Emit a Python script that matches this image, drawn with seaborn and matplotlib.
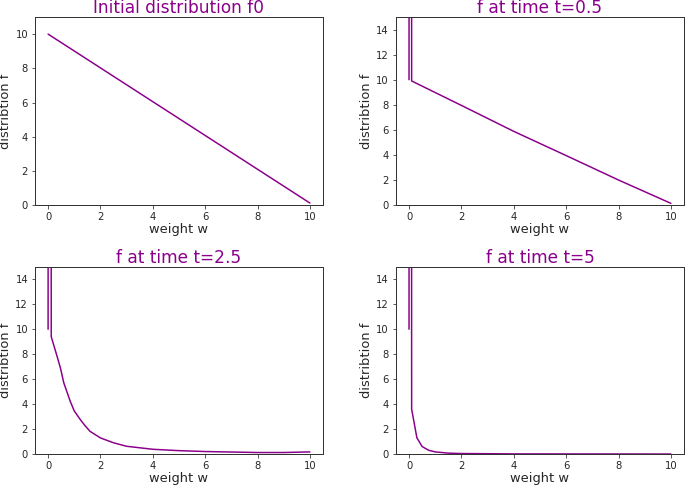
import numpy as np
import matplotlib
matplotlib.use("Agg")
import matplotlib.pyplot as plt
import seaborn as sns

# values
w_f0 = [0.0, 10.0]
f_f0 = [10.0, 0.12]

w_t05 = [0.0, 0.05, 0.1, 2.0, 4.0, 6.0, 8.0, 10.0]
f_t05 = [10.0, 300.0, 9.9, 7.95, 5.88, 3.95, 2.0, 0.14]

w_t25 = [0.0, 0.06, 0.12, 0.34, 0.47, 0.6, 0.7, 0.85, 1.0, 1.23, 1.4, 1.6, 2.0, 2.5, 3.0,
         4.0, 5.0, 6.0, 8.0, 9.0, 10.0]
f_t25 = [10.0, 300.0, 9.4, 7.85, 6.9, 5.7, 5.1, 4.2, 3.45, 2.76, 2.3, 1.82, 1.29, 0.9, 0.62,
         0.38, 0.27, 0.2, 0.12, 0.12, 0.17]

w_t5 = [0.0, 0.05, 0.1, 0.3, 0.5, 0.75, 1.0, 1.5, 2.0, 4.0, 10.0]
f_t5 = [10.0, 300.0, 3.6, 1.3, 0.6, 0.3, 0.17, 0.07, 0.04, 0.01, 0.0]

titles = ["Initial distribution f0", "f at time t=0.5", "f at time t=2.5", "f at time t=5"]

sns.set_style("ticks")
plt.rcParams['font.family'] = ['DejaVu Sans']

fig = plt.figure(figsize=(685 / 72, 486 / 72), dpi=72)

rects = [
    [0.0511, 0.578, 0.4204, 0.387],
    [0.578, 0.578, 0.4205, 0.387],
    [0.0511, 0.0658, 0.4204, 0.3852],
    [0.578, 0.0658, 0.4205, 0.3852],
]
series = [(w_f0, f_f0), (w_t05, f_t05), (w_t25, f_t25), (w_t5, f_t5)]

for i, (w, f) in enumerate(series):
    ax = fig.add_axes(rects[i])
    sns.lineplot(x=w, y=f, ax=ax, color="darkmagenta", estimator=None, sort=False, linewidth=1.5)
    ax.set_xlim(-0.5, 10.5)
    if i == 0:
        ax.set_ylim(0, 11)
        ax.set_yticks(np.arange(0, 11, 2))
    else:
        ax.set_ylim(0, 15)
        ax.set_yticks(np.arange(0, 15, 2))
    ax.set_xticks(np.arange(0, 11, 2))
    ax.tick_params(labelsize=10, length=3.5, color="#333333")
    for sp in ax.spines.values():
        sp.set_color("#333333")
        sp.set_linewidth(1.0)
    ax.set_title(titles[i], fontsize=17, color="darkmagenta", pad=2)
    ax.set_xlabel("weight w", fontsize=13, labelpad=1)
    ax.set_ylabel("distribtion f", fontsize=13, labelpad=3)

fig.savefig("out.png", dpi=72)
